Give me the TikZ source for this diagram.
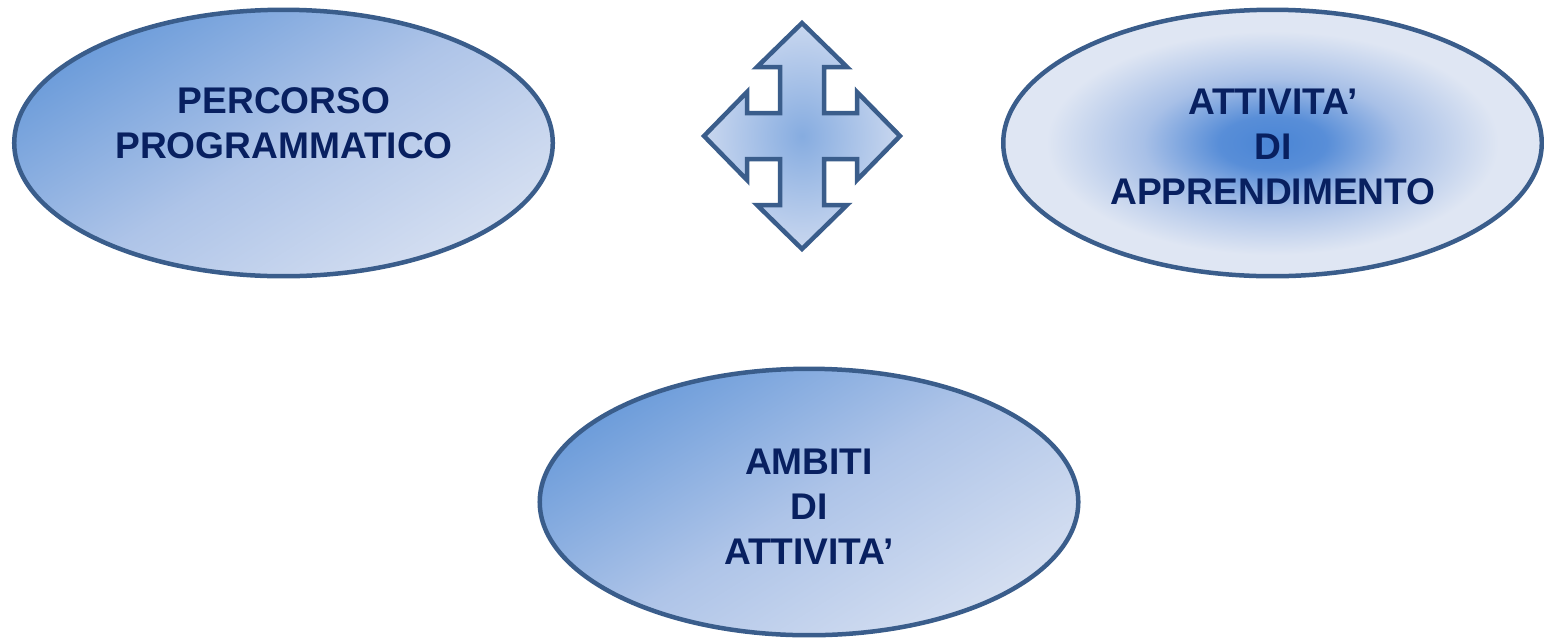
\documentclass[tikz,border=0pt]{standalone}
\usepackage{fontspec}
\setmainfont{Liberation Sans}
\usetikzlibrary{shapes.geometric}
\definecolor{edge}{HTML}{3A5D8B}
\definecolor{txt}{HTML}{082060}
\definecolor{dk}{HTML}{6C9CDA}
\definecolor{md}{HTML}{AEC4E8}
\definecolor{lt}{HTML}{D5DFF1}
\definecolor{core}{HTML}{4A85D5}
\definecolor{cmid}{HTML}{A8C0E7}
\definecolor{rim}{HTML}{DFE6F3}
\definecolor{acore}{HTML}{86ACE0}
\definecolor{arim}{HTML}{C9D7EF}
\pgfdeclareradialshading{attshade}{\pgfpoint{0bp}{0bp}}{%
  color(0bp)=(core); color(5bp)=(core!85!cmid); color(12bp)=(cmid); color(21bp)=(rim); color(50bp)=(rim)}
\tikzset{
  ell/.style={ellipse, draw=edge, line width=3.2pt, minimum width=13.46cm, minimum height=6.66cm, inner sep=0pt},
  linfill/.style={top color=dk, bottom color=lt, middle color=md, shading angle=32},
  radfill/.style={shading=attshade},
  lbl/.style={align=center, text=txt, font=\fontsize{26.4}{32}\selectfont\bfseries, inner sep=0pt},
  bigarrow/.style={draw=edge, line width=3.2pt, line join=miter, inner color=acore, outer color=arim}
}
\begin{document}
\begin{tikzpicture}[x=0.025cm, y=-0.025cm]
\useasboundingbox (0,0) rectangle (1544,640);
\node[ell, linfill] (perc) at (283.5,143) {};
\node[lbl] (percT) at (284,123) {PERCORSO\\PROGRAMMATICO};
\node[ell, radfill] (att) at (1272.5,143) {};
\node[lbl] (attT) at (1273,147) {ATTIVITA’\\DI\\APPRENDIMENTO};
\node[ell, linfill] (amb) at (809,502) {};
\node[lbl] (ambT) at (809,507) {AMBITI\\DI\\ATTIVITA’};
\begin{scope}[shift={(802,136)}]
\path[bigarrow] (0,-113) -- (45,-69) -- (22,-69) -- (22,-23) -- (55,-23) -- (55,-44) -- (98,0) -- (55,44) -- (55,23) -- (22,23) -- (22,69) -- (45,69) -- (0,113) -- (-45,69) -- (-22,69) -- (-22,23) -- (-55,23) -- (-55,44) -- (-98,0) -- (-55,-44) -- (-55,-23) -- (-22,-23) -- (-22,-69) -- (-45,-69) -- cycle;
\end{scope}
\end{tikzpicture}
\end{document}
